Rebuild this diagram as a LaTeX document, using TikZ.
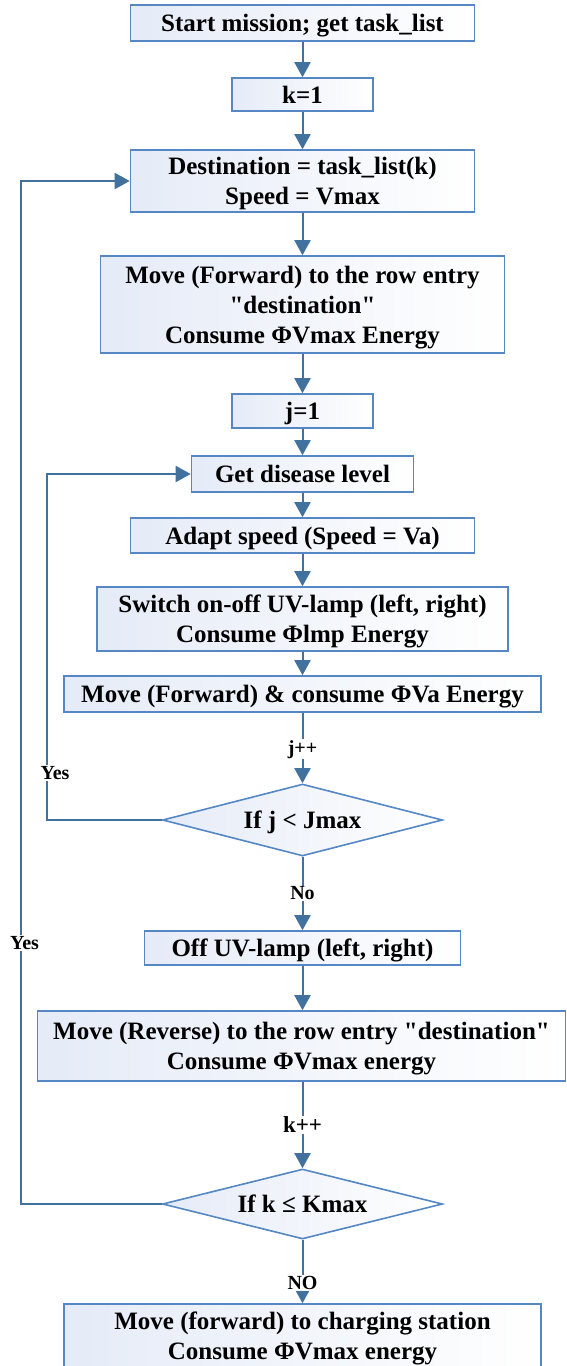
\documentclass[tikz,border=0pt]{standalone}
\usepackage{fontspec}
\setmainfont{Liberation Serif}
\usetikzlibrary{shapes.geometric,arrows.meta}
\definecolor{linec}{RGB}{65,113,156}
\definecolor{bordc}{RGB}{84,135,196}
\definecolor{fillc}{RGB}{229,235,247}
\begin{document}
\begin{tikzpicture}[x=1pt,y=-1pt,
 box/.style={draw=bordc, line width=1.6pt, left color=fillc, right color=white, inner sep=0pt, align=center, text depth=0pt, font=\bfseries\fontsize{25}{30}\selectfont},
 dia/.style={box, shape=diamond, aspect=3.9, minimum width=280pt, minimum height=72pt},
 arr/.style={draw=linec, line width=2pt, -{Triangle[width=16pt,length=15pt]}},
 lbl/.style={fill=white, inner sep=1pt, font=\bfseries\fontsize{20}{24}\selectfont}]
\useasboundingbox (0,0) rectangle (566,1366);
\node[box, minimum width=344pt, minimum height=36pt] (b1) at (302.5,23) {Start mission; get task\_list};
\node[box, minimum width=141pt, minimum height=33pt] (b2) at (302.5,94.5) {k=1};
\node[box, minimum width=344pt, minimum height=62pt] (b3) at (302.5,181) {Destination = task\_list(k)\\Speed = Vmax};
\node[box, minimum width=404pt, minimum height=97pt] (b4) at (302.5,304.5) {Move (Forward) to the row entry\\\textquotedbl destination\textquotedbl\\Consume ΦVmax Energy};
\node[box, minimum width=141pt, minimum height=34pt] (b5) at (302.5,411) {j=1};
\node[box, minimum width=222pt, minimum height=36pt] (b6) at (302.5,474) {Get disease level};
\node[box, minimum width=344pt, minimum height=35pt] (b7) at (302.5,535.5) {Adapt speed (Speed = Va)};
\node[box, minimum width=411pt, minimum height=64pt] (b8) at (302.5,619) {Switch on-off UV-lamp (left, right)\\Consume Φlmp Energy};
\node[box, minimum width=477pt, minimum height=36pt] (b9) at (302.5,694) {Move (Forward) \& consume ΦVa Energy};
\node[dia] (d1) at (302.5,820) {If j < Jmax};
\node[box, minimum width=316pt, minimum height=34pt] (b10) at (302.5,948) {Off UV-lamp (left, right)};
\node[box, minimum width=528pt, minimum height=70pt] (b11) at (301.5,1046) {Move (Reverse) to the row entry \textquotedbl destination\textquotedbl\\Consume ΦVmax energy};
\node[dia, minimum height=70pt] (d2) at (302.5,1204) {If k ≤ Kmax};
\node[box, minimum width=477pt, minimum height=64pt] (b12) at (302.5,1336) {Move (forward) to charging station\\Consume ΦVmax energy};
\coordinate (c1) at (46.7,474);
\coordinate (c2) at (20.7,181);
\draw[arr] (b1) -- (b2);
\draw[arr] (b2) -- (b3);
\draw[arr] (b3) -- (b4);
\draw[arr] (b4) -- (b5);
\draw[arr] (b5) -- (b6);
\draw[arr] (b6) -- (b7);
\draw[arr] (b7) -- (b8);
\draw[arr] (b8) -- (b9);
\draw[arr] (b9) -- node[lbl, pos=0.52] (lj) {j++} (d1);
\draw[arr] (d1) -- node[lbl] (lno) {No} (b10);
\draw[arr] (b10.south) -- (b10.south |- b11.north);
\draw[arr] (b11.south -| d2.north) -- node[lbl, font=\bfseries\fontsize{23}{24}\selectfont] (lk) {k++} (d2.north);
\draw[arr] (d2) -- node[lbl, pos=0.68] (lNO) {NO} (b12);
\draw[arr] (d1.west) -| (c1) -- (b6.west);
\draw[arr] (d2.west) -| (c2) -- (b3.west);
\node[lbl] (ly1) at (55,773) {Yes};
\node[lbl] (ly2) at (24.5,943) {Yes};
\end{tikzpicture}
\end{document}
